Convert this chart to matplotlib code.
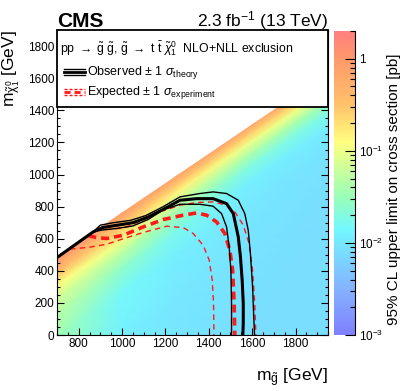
import numpy as np
import matplotlib
matplotlib.use('Agg')
import matplotlib.pyplot as plt
from matplotlib.colors import LinearSegmentedColormap, LogNorm
from matplotlib.ticker import MultipleLocator, LogLocator, FuncFormatter, NullFormatter
from matplotlib.patches import Rectangle

plt.rcParams['font.family'] = ['Liberation Sans', 'DejaVu Sans']
plt.rcParams['mathtext.fontset'] = 'custom'
plt.rcParams['mathtext.rm'] = 'Liberation Sans'
plt.rcParams['mathtext.it'] = 'Liberation Sans:italic'
plt.rcParams['mathtext.bf'] = 'Liberation Sans:bold'
plt.rcParams['mathtext.sf'] = 'Liberation Sans'

# limit map on a coarse grid:
# gluino mass nodes, top edge of the scan at each node, distance below that edge
GLUINO_NODES = [700, 1000, 1250, 1600, 1950]
EDGE_LSP = [485, 760, 989, 1309, 1630]
DELTA_NODES = [0, 50, 100, 175, 250, 350, 500, 800, 1300, 1950]
LIMIT_PB = [
    [1.3, 0.8, 0.7, 0.65, 0.65],
    [0.6, 0.4, 0.3, 0.25, 0.25],
    [0.35, 0.25, 0.15, 0.1, 0.1],
    [0.12, 0.1, 0.06, 0.04, 0.035],
    [0.07, 0.05, 0.03, 0.02, 0.018],
    [0.05, 0.025, 0.017, 0.012, 0.011],
    [0.035, 0.015, 0.012, 0.01, 0.009],
    [0.03, 0.012, 0.01, 0.009, 0.008],
    [0.03, 0.011, 0.009, 0.008, 0.008],
    [0.03, 0.011, 0.009, 0.008, 0.008],
]

# exclusion contours (m_gluino, m_LSP)
OBS_X = [700, 867, 910, 980, 1050, 1120, 1200, 1267, 1344, 1420, 1482, 1513, 1536, 1546, 1554, 1559, 1559, 1557]
OBS_Y = [483, 643, 670, 685, 700, 735, 790, 840, 850, 850, 819, 757, 612, 488, 342, 197, 73, 0]
OBS_UP_X = [867, 900, 960, 1040, 1110, 1190, 1267, 1359, 1420, 1482, 1536, 1566, 1582, 1592, 1602, 1608, 1611]
OBS_UP_Y = [643, 685, 700, 715, 745, 800, 861, 882, 892, 882, 840, 757, 653, 508, 301, 94, 0]
OBS_DN_X = [867, 910, 980, 1050, 1120, 1190, 1267, 1359, 1420, 1459, 1482, 1494, 1502, 1505, 1505]
OBS_DN_Y = [643, 655, 665, 680, 720, 780, 815, 815, 803, 757, 674, 550, 405, 197, 0]

EXP_X = [845, 880, 929, 1006, 1098, 1190, 1282, 1344, 1390, 1436, 1474, 1497, 1510, 1517, 1520]
EXP_Y = [620, 608, 602, 622, 674, 720, 747, 761, 747, 705, 633, 529, 405, 197, 0]
EXP_UP_X = [880, 960, 1021, 1100, 1180, 1267, 1344, 1420, 1482, 1520, 1559, 1586, 1602, 1612, 1617]
EXP_UP_Y = [655, 660, 674, 720, 770, 809, 826, 830, 809, 768, 685, 571, 405, 197, 0]
EXP_DN_X = [760, 852, 929, 1010, 1100, 1205, 1282, 1328, 1374, 1402, 1416, 1422, 1424]
EXP_DN_Y = [535, 548, 566, 602, 640, 678, 670, 633, 560, 467, 342, 197, 0]

Z_MIN, Z_MAX = 1e-3, 2.0

cmap = LinearSegmentedColormap.from_list('pastel_rainbow', [
    (0.0, (0.50, 0.50, 1.00)),
    (0.151, (0.52, 0.70, 1.00)),
    (0.348, (0.45, 0.97, 1.00)),
    (0.454, (0.60, 1.00, 0.72)),
    (0.636, (1.00, 1.00, 0.50)),
    (0.757, (1.00, 0.76, 0.42)),
    (0.909, (1.00, 0.60, 0.42)),
    (1.0, (1.00, 0.50, 0.50)),
])

fig = plt.figure(figsize=(4.07, 3.91), dpi=100)
ax = fig.add_axes([0.140, 0.143, 0.666, 0.780])
cax = fig.add_axes([0.821, 0.143, 0.051, 0.778])

gl = np.array(GLUINO_NODES, dtype=float)
edge = np.array(EDGE_LSP, dtype=float)
delta = np.array(DELTA_NODES, dtype=float)
X = np.tile(gl, (len(delta), 1))
Y = edge[None, :] - delta[:, None]
mesh = ax.pcolormesh(X, Y, np.array(LIMIT_PB), shading='gouraud', cmap=cmap,
                     norm=LogNorm(Z_MIN, Z_MAX), rasterized=True, zorder=1)

red = '#ff1a1a'
ax.plot(EXP_DN_X, EXP_DN_Y, color=red, lw=1.0, dashes=(4, 3), zorder=3)
ax.plot(EXP_UP_X, EXP_UP_Y, color=red, lw=1.0, dashes=(4, 3), zorder=3)
ax.plot(EXP_X, EXP_Y, color=red, lw=2.6, dashes=(2.2, 1.4), zorder=3)
ax.plot(OBS_DN_X, OBS_DN_Y, color='black', lw=1.0, zorder=4)
ax.plot(OBS_UP_X, OBS_UP_Y, color='black', lw=1.0, zorder=4)
ax.plot(OBS_X, OBS_Y, color='black', lw=2.2, zorder=4)

ax.set_xlim(700, 1950)
ax.set_ylim(0, 1900)
ax.xaxis.set_major_locator(MultipleLocator(200))
ax.xaxis.set_minor_locator(MultipleLocator(50))
ax.yaxis.set_major_locator(MultipleLocator(200))
ax.yaxis.set_minor_locator(MultipleLocator(50))
ax.tick_params(which='both', direction='in', top=True, right=True, labelsize=8.5, pad=2)
ax.tick_params(which='major', length=5, width=0.8)
ax.tick_params(which='minor', length=2.5, width=0.8)
ax.set_xticks([800, 1000, 1200, 1400, 1600, 1800])
ax.set_yticks([0, 200, 400, 600, 800, 1000, 1200, 1400, 1600, 1800])

ax.set_xlabel(r'$\mathregular{m_{\tilde{g}}}$ [GeV]', fontsize=12.5, loc='right', labelpad=12)
ax.set_ylabel(r'$\mathregular{m_{\tilde{\chi}^{0}_{1}}}$ [GeV]', fontsize=12.5, loc='top', labelpad=4)

# legend box
ax.add_patch(Rectangle((0, 0.748), 1, 0.252, transform=ax.transAxes, facecolor='white',
                       edgecolor='black', lw=1.3, zorder=6, clip_on=False))
ax.text(0.011, 0.938, r'pp $\rightarrow$ $\tilde{\mathrm{g}}$ $\tilde{\mathrm{g}}$, $\tilde{\mathrm{g}}$ $\rightarrow$ t $\bar{\mathrm{t}}$ $\tilde{\chi}^{0}_{1}$  NLO+NLL exclusion',
        transform=ax.transAxes, fontsize=8.8, va='center', ha='left', zorder=7)
for dy, lw in [(0.009, 1.0), (0.0, 2.0), (-0.009, 1.0)]:
    ax.plot([0.026, 0.103], [0.862 + dy, 0.862 + dy], transform=ax.transAxes, color='black',
            lw=lw, zorder=7, clip_on=False)
    ax.plot([0.026, 0.103], [0.797 + dy, 0.797 + dy], transform=ax.transAxes, color=red,
            lw=lw, dashes=(2.2, 1.4), zorder=7, clip_on=False)
ax.text(0.11, 0.862, r'Observed $\pm$ 1 $\sigma_{\mathrm{theory}}$', transform=ax.transAxes,
        fontsize=9, va='center', ha='left', zorder=7)
ax.text(0.11, 0.797, r'Expected $\pm$ 1 $\sigma_{\mathrm{experiment}}$', transform=ax.transAxes,
        fontsize=9, va='center', ha='left', zorder=7)

# colour scale
cb = fig.colorbar(mesh, cax=cax)
cb.outline.set_visible(False)
cax.plot([1, 1], [0, 1], transform=cax.transAxes, color='black', lw=0.8, clip_on=False)
cax.yaxis.set_major_locator(LogLocator(base=10, numticks=10))
cax.yaxis.set_minor_locator(LogLocator(base=10, subs=np.arange(2, 10), numticks=10))
cax.yaxis.set_major_formatter(FuncFormatter(lambda v, p: '1' if abs(v - 1) < 1e-9 else r'$10^{%d}$' % round(np.log10(v))))
cax.yaxis.set_minor_formatter(NullFormatter())
cax.tick_params(which='both', direction='in', labelsize=8.5, pad=3)
cax.tick_params(which='major', length=7, width=0.8)
cax.tick_params(which='minor', length=3.5, width=0.8)
fig.text(0.968, 0.515, '95% CL upper limit on cross section [pb]', rotation=90, fontsize=11,
         ha='center', va='center')

fig.text(0.140, 0.931, 'CMS', fontsize=15, fontweight='bold', ha='left', va='baseline')
fig.text(0.806, 0.933, r'2.3 fb$^{-1}$ (13 TeV)', fontsize=12.5, ha='right', va='baseline')

fig.savefig('out.png', dpi=100)
